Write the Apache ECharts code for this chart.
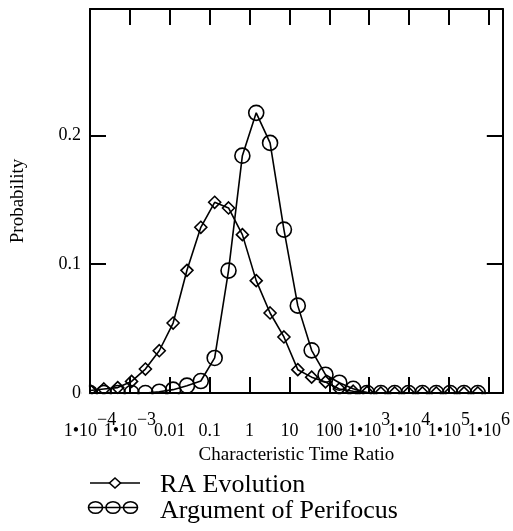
<!DOCTYPE html>
<html>
<head>
<meta charset="utf-8">
<script src="https://cdn.jsdelivr.net/npm/echarts@6/dist/echarts.min.js"></script>
<style>
  html, body { margin: 0; padding: 0; background: #fff; }
  #chart { width: 513px; height: 531px; }
</style>
</head>
<body>
<div id="chart"></div>
<script>
// Characteristic time ratio of each bin (log-spaced)
const timeRatio = [
  1.000e-4, 2.225e-4, 4.950e-4, 1.101e-3, 2.450e-3, 5.451e-3, 0.01213, 0.02698,
  0.06003, 0.1336, 0.2972, 0.6612, 1.471, 3.273, 7.282, 16.20, 36.05, 80.21,
  178.4, 396.9, 883.1, 1965, 4372, 9725, 21640, 48140, 107100, 238300, 530200
];

// Probability per bin
const raEvolution = [
  0.0020, 0.0031, 0.0042, 0.0090, 0.0186, 0.0328, 0.0543, 0.0952,
  0.1286, 0.1480, 0.1436, 0.1229, 0.0872, 0.0621, 0.0435, 0.0181, 0.0123, 0.0086,
  0.0031, 0.0014, 0.0005, 0, 0, 0, 0, 0, 0, 0, 0
];
const argPerifocus = [
  0, 0, 0, 0, 0, 0.0010, 0.0026, 0.0057,
  0.0093, 0.0272, 0.0950, 0.1842, 0.2174, 0.1941, 0.1268, 0.0678, 0.0331, 0.0142,
  0.0080, 0.0033, 0, 0, 0, 0, 0, 0, 0, 0, 0
];

// Axis ticks and their labels ('^' marks a superscript exponent)
const xTickValues = [1e-4, 1e-3, 0.01, 0.1, 1, 10, 100, 1e3, 1e4, 1e5, 1e6];
const xTickLabels = ['1•10^−4', '1•10^−3', '0.01', '0.1', '1', '10', '100',
                     '1•10^3', '1•10^4', '1•10^5', '1•10^6'];
const yTickValues = [0, 0.1, 0.2];
const yTickLabels = ['0', '0.1', '0.2'];

const X_MIN = 1e-4;
const X_MAX = 2.2387e6;
const Y_MAX = 0.298;

const FONT = 'Liberation Serif';
const INK = '#000';

function richLabel(i) {
  const parts = xTickLabels[i].split('^');
  return parts.length > 1 ? '{m|' + parts[0] + '}{s|' + parts[1] + '}' : '{m|' + parts[0] + '}';
}
function tickIndex(v) {
  return xTickValues.findIndex(t => Math.abs(Math.log10(t) - Math.log10(v)) < 1e-6);
}
// every decade label except the first one
function xLabel(v) {
  const i = tickIndex(v);
  return i < 1 ? '' : richLabel(i);
}
// the first decade label, drawn on its own so the overlapping neighbour stays visible
function xFirstLabel(v) {
  return tickIndex(v) === 0 ? richLabel(0) : '';
}
function yLabel(v) {
  const i = yTickValues.findIndex(t => Math.abs(t - v) < 1e-9);
  return i < 0 ? '' : yTickLabels[i];
}

const axisLine = { show: true, onZero: false, lineStyle: { color: INK, width: 2 } };
const axisTick = { show: true, inside: true, length: 16, lineStyle: { color: INK, width: 2 } };
const labelRich = {
  m: { fontFamily: FONT, fontSize: 18, color: INK, lineHeight: 18, padding: [11, 0, 0, 0] },
  s: { fontFamily: FONT, fontSize: 18, color: INK, lineHeight: 18, padding: [0, 0, 11, 0] }
};

const chart = echarts.init(document.getElementById('chart'), null, { renderer: 'canvas' });

chart.setOption({
  animation: false,
  backgroundColor: '#fff',
  grid: { left: 90, right: 9, top: 9, bottom: 138, containLabel: false },
  xAxis: [
    {
      type: 'log', logBase: 10, min: X_MIN, max: X_MAX, interval: 1,
      position: 'bottom',
      axisLine, axisTick,
      splitLine: { show: false }, minorTick: { show: false },
      axisLabel: {
        margin: 24, color: INK, fontFamily: FONT, fontSize: 18,
        showMinLabel: false, showMaxLabel: true, hideOverlap: false,
        formatter: xLabel, rich: labelRich
      },
      name: 'Characteristic Time Ratio', nameLocation: 'middle', nameGap: 42,
      nameTextStyle: { fontFamily: FONT, fontSize: 19, color: INK }
    },
    {
      type: 'log', logBase: 10, min: X_MIN, max: X_MAX, interval: 1,
      position: 'top',
      axisLine, axisTick,
      splitLine: { show: false },
      axisLabel: { show: false }
    },
    {
      type: 'log', logBase: 10, min: X_MIN, max: X_MAX, interval: 1,
      position: 'bottom',
      axisLine: { show: false }, axisTick: { show: false },
      splitLine: { show: false },
      axisLabel: {
        margin: 24, color: INK, fontFamily: FONT, fontSize: 18,
        showMinLabel: true, hideOverlap: false,
        formatter: xFirstLabel, rich: labelRich
      }
    }
  ],
  yAxis: [
    {
      type: 'value', min: 0, max: Y_MAX, interval: 0.1,
      position: 'left',
      axisLine, axisTick,
      splitLine: { show: false },
      axisLabel: {
        margin: 9, color: INK, fontFamily: FONT, fontSize: 18, formatter: yLabel,
        showMinLabel: true, padding: [6, 0, 0, 0]
      },
      name: 'Probability', nameLocation: 'middle', nameGap: 62, nameRotate: 90,
      nameTextStyle: { fontFamily: FONT, fontSize: 19, color: INK }
    },
    {
      type: 'value', min: 0, max: Y_MAX, interval: 0.1,
      position: 'right',
      axisLine, axisTick,
      splitLine: { show: false },
      axisLabel: { show: false }
    }
  ],
  series: [
    {
      name: 'RA Evolution', type: 'line',
      data: timeRatio.map((x, i) => [x, raEvolution[i]]),
      symbol: 'diamond', symbolSize: 12, showAllSymbol: true,
      lineStyle: { color: INK, width: 1.6 },
      itemStyle: { color: 'rgba(255,255,255,0)', borderColor: INK, borderWidth: 1.6 },
      emphasis: { disabled: true }, clip: false
    },
    {
      name: 'Argument of Perifocus', type: 'line',
      data: timeRatio.map((x, i) => [x, argPerifocus[i]]),
      symbol: 'circle', symbolSize: 15, showAllSymbol: true,
      lineStyle: { color: INK, width: 1.6 },
      itemStyle: { color: 'rgba(255,255,255,0)', borderColor: INK, borderWidth: 1.6 },
      emphasis: { disabled: true }, clip: false
    }
  ],
  graphic: [
    // keep markers inside the plot frame
    { type: 'rect', z: 100, shape: { x: 86, y: 394.2, width: 424, height: 14 }, style: { fill: '#fff' } },
    { type: 'rect', z: 100, shape: { x: 81.5, y: 300, width: 7.4, height: 108 }, style: { fill: '#fff' } },
    // legend
    { type: 'line', z: 100, shape: { x1: 90, y1: 483, x2: 140, y2: 483 }, style: { stroke: INK, lineWidth: 1.6 } },
    { type: 'polygon', z: 101, shape: { points: [[115, 478], [120.5, 483], [115, 488], [109.5, 483]] },
      style: { fill: '#fff', stroke: INK, lineWidth: 1.6 } },
    { type: 'text', z: 100, x: 160, y: 485,
      style: { text: 'RA Evolution', font: '26px "Liberation Serif"', fill: INK, verticalAlign: 'middle' } },
    { type: 'line', z: 100, shape: { x1: 88, y1: 507.5, x2: 138, y2: 507.5 }, style: { stroke: INK, lineWidth: 1.6 } },
    { type: 'ellipse', z: 100, shape: { cx: 95.5, cy: 507.5, rx: 7, ry: 5.8 }, style: { fill: 'none', stroke: INK, lineWidth: 1.6 } },
    { type: 'ellipse', z: 100, shape: { cx: 113, cy: 507.5, rx: 7, ry: 5.8 }, style: { fill: 'none', stroke: INK, lineWidth: 1.6 } },
    { type: 'ellipse', z: 100, shape: { cx: 130.5, cy: 507.5, rx: 7, ry: 5.8 }, style: { fill: 'none', stroke: INK, lineWidth: 1.6 } },
    { type: 'text', z: 100, x: 160, y: 511,
      style: { text: 'Argument of Perifocus', font: '26px "Liberation Serif"', fill: INK, verticalAlign: 'middle' } }
  ]
});
</script>
</body>
</html>
